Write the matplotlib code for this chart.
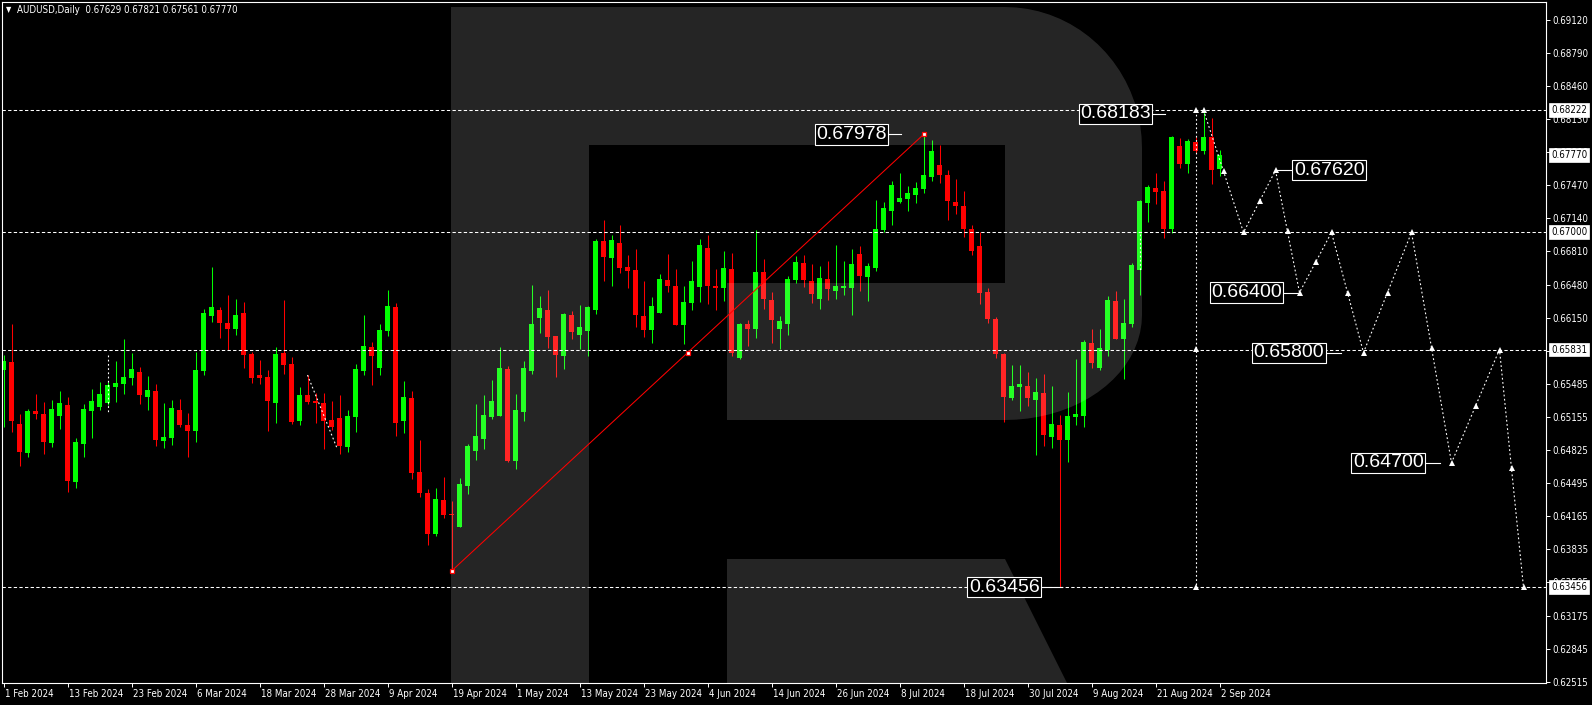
import os
import glob
import numpy as np
import matplotlib
matplotlib.use("Agg")
from matplotlib import pyplot as plt
from matplotlib import font_manager as fm
from matplotlib import transforms as mtransforms
from matplotlib.patches import Polygon

W, H = 1592, 705

# daily candles, 1 Feb 2024 .. 2 Sep 2024
opens = [0.65626, 0.65706, 0.65087, 0.64800, 0.65216, 0.65187, 0.64900, 0.65170, 0.65276, 0.64511,
         0.64890, 0.65220, 0.65260, 0.65300, 0.65456, 0.65486, 0.65546, 0.65606, 0.65356, 0.65416,
         0.64917, 0.64947, 0.65226, 0.65077, 0.65017, 0.65616, 0.66165, 0.66225, 0.66095, 0.66035,
         0.66195, 0.65786, 0.65576, 0.65556, 0.65296, 0.65796, 0.65686, 0.65117, 0.65376, 0.65316,
         0.65296, 0.65127, 0.65147, 0.64857, 0.65157, 0.65616, 0.65856, 0.65646, 0.66015, 0.66255,
         0.65117, 0.65346, 0.64607, 0.64398, 0.63988, 0.64328, 0.64180, 0.64061, 0.64471, 0.64820,
         0.64940, 0.65160, 0.65170, 0.65636, 0.64720, 0.65210, 0.65619, 0.66148, 0.66225, 0.65965,
         0.65769, 0.66175, 0.65978, 0.66018, 0.66228, 0.66914, 0.66747, 0.66894, 0.66654, 0.66624,
         0.66165, 0.66025, 0.66195, 0.66524, 0.66465, 0.66075, 0.66295, 0.66455, 0.66844, 0.66465,
         0.66445, 0.66634, 0.65746, 0.66085, 0.66035, 0.66604, 0.66325, 0.66035, 0.66085, 0.66524,
         0.66694, 0.66514, 0.66335, 0.66534, 0.66415, 0.66448, 0.66445, 0.66784, 0.66554, 0.66644,
         0.67024, 0.67213, 0.67303, 0.67333, 0.67373, 0.67433, 0.67553, 0.67673, 0.67573, 0.67303,
         0.67263, 0.67034, 0.66864, 0.66405, 0.66135, 0.65786, 0.65349, 0.65456, 0.65466, 0.65329,
         0.65396, 0.64960, 0.65076, 0.64930, 0.65156, 0.65169, 0.65895, 0.65645, 0.65825, 0.66314,
         0.65935, 0.66085, 0.66620, 0.67294, 0.67443, 0.67414, 0.67034, 0.67863, 0.67683, 0.67903,
         0.67813, 0.67953, 0.67629]
highs = [0.65776, 0.66085, 0.65187, 0.65236, 0.65386, 0.65306, 0.65326, 0.65416, 0.65356, 0.64947,
         0.65286, 0.65436, 0.65506, 0.65509, 0.65716, 0.65935, 0.65796, 0.65656, 0.65566, 0.65486,
         0.65296, 0.65326, 0.65336, 0.65197, 0.65806, 0.66235, 0.66654, 0.66255, 0.66375, 0.66335,
         0.66305, 0.65806, 0.65726, 0.65626, 0.65856, 0.66325, 0.65756, 0.65456, 0.65576, 0.65393,
         0.65396, 0.65316, 0.65376, 0.65226, 0.65686, 0.66175, 0.65905, 0.66085, 0.66425, 0.66295,
         0.65516, 0.65416, 0.64927, 0.64438, 0.64448, 0.64557, 0.64318, 0.64547, 0.64887, 0.65286,
         0.65376, 0.65526, 0.65855, 0.65666, 0.65386, 0.65715, 0.66474, 0.66364, 0.66424, 0.65965,
         0.66195, 0.66215, 0.66275, 0.66265, 0.66934, 0.67123, 0.66974, 0.67073, 0.66774, 0.66834,
         0.66514, 0.66355, 0.66584, 0.66784, 0.66634, 0.66465, 0.66714, 0.66934, 0.66974, 0.66634,
         0.66814, 0.66794, 0.66095, 0.66125, 0.67024, 0.66734, 0.66405, 0.66165, 0.66564, 0.66764,
         0.66774, 0.66684, 0.66664, 0.66714, 0.66874, 0.66714, 0.66834, 0.66864, 0.66694, 0.67323,
         0.67303, 0.67513, 0.67593, 0.67463, 0.67503, 0.67978, 0.67922, 0.67872, 0.67623, 0.67533,
         0.67413, 0.67074, 0.67004, 0.66445, 0.66155, 0.65796, 0.65675, 0.65675, 0.65605, 0.65545,
         0.65585, 0.65466, 0.65176, 0.65406, 0.65735, 0.65925, 0.66035, 0.66035, 0.66364, 0.66414,
         0.66334, 0.66694, 0.67324, 0.67473, 0.67593, 0.67517, 0.67963, 0.67943, 0.67933, 0.67956,
         0.68222, 0.68142, 0.67821]
lows = [0.65060, 0.65010, 0.64671, 0.64760, 0.65140, 0.64790, 0.64860, 0.65040, 0.64411, 0.64451,
        0.64760, 0.64950, 0.65230, 0.65273, 0.65306, 0.65386, 0.65476, 0.65286, 0.65226, 0.64867,
        0.64847, 0.64877, 0.65057, 0.64757, 0.64907, 0.65576, 0.66105, 0.65945, 0.65826, 0.65975,
        0.65646, 0.65496, 0.65486, 0.65017, 0.65097, 0.65586, 0.65087, 0.65077, 0.65286, 0.65097,
        0.64837, 0.65027, 0.64787, 0.64807, 0.65007, 0.65576, 0.65476, 0.65576, 0.65965, 0.64967,
        0.64997, 0.64538, 0.64358, 0.63879, 0.63968, 0.64148, 0.63619, 0.64061, 0.64391, 0.64730,
        0.64840, 0.65140, 0.65170, 0.64710, 0.64640, 0.65120, 0.65589, 0.65998, 0.65849, 0.65559,
        0.65639, 0.65938, 0.65839, 0.65769, 0.66188, 0.66518, 0.66468, 0.66597, 0.66448, 0.66058,
        0.65955, 0.65895, 0.66195, 0.66405, 0.66075, 0.65885, 0.66225, 0.66305, 0.66285, 0.66225,
        0.66315, 0.65766, 0.65736, 0.65865, 0.65945, 0.66235, 0.65895, 0.65836, 0.65975, 0.66495,
        0.66455, 0.66295, 0.66235, 0.66325, 0.66335, 0.66375, 0.66175, 0.66415, 0.66315, 0.66614,
        0.67004, 0.67074, 0.67293, 0.67213, 0.67293, 0.67393, 0.67513, 0.67493, 0.67124, 0.67183,
        0.66954, 0.66774, 0.66285, 0.66095, 0.65746, 0.65109, 0.65329, 0.65219, 0.65269, 0.64780,
        0.64870, 0.64850, 0.63456, 0.64710, 0.65076, 0.65060, 0.65649, 0.65625, 0.65765, 0.65935,
        0.65536, 0.66058, 0.66374, 0.67104, 0.67284, 0.66948, 0.66991, 0.67643, 0.67593, 0.67790,
        0.67783, 0.67483, 0.67561]
closes = [0.65716, 0.65117, 0.64810, 0.65216, 0.65190, 0.64910, 0.65236, 0.65296, 0.64521, 0.64907,
          0.65236, 0.65316, 0.65386, 0.65476, 0.65496, 0.65556, 0.65636, 0.65376, 0.65426, 0.64927,
          0.64957, 0.65246, 0.65077, 0.65017, 0.65626, 0.66195, 0.66255, 0.66095, 0.66035, 0.66175,
          0.65776, 0.65546, 0.65546, 0.65316, 0.65786, 0.65676, 0.65107, 0.65376, 0.65306, 0.65296,
          0.65117, 0.65057, 0.64867, 0.65167, 0.65636, 0.65865, 0.65766, 0.66025, 0.66265, 0.65097,
          0.65356, 0.64597, 0.64398, 0.63988, 0.64338, 0.64178, 0.64176, 0.64487, 0.64867, 0.64967,
          0.65176, 0.65316, 0.65646, 0.64720, 0.65226, 0.65646, 0.66085, 0.66245, 0.65958, 0.65779,
          0.66185, 0.66008, 0.66055, 0.66255, 0.66914, 0.66757, 0.66924, 0.66647, 0.66617, 0.66178,
          0.66025, 0.66265, 0.66534, 0.66465, 0.66075, 0.66305, 0.66514, 0.66874, 0.66465, 0.66445,
          0.66644, 0.65796, 0.66085, 0.66035, 0.66604, 0.66335, 0.66125, 0.66115, 0.66534, 0.66704,
          0.66524, 0.66385, 0.66544, 0.66435, 0.66465, 0.66468, 0.66684, 0.66564, 0.66664, 0.67034,
          0.67243, 0.67473, 0.67343, 0.67393, 0.67443, 0.67573, 0.67812, 0.67573, 0.67313, 0.67263,
          0.67034, 0.66814, 0.66395, 0.66135, 0.65786, 0.65356, 0.65466, 0.65486, 0.65349, 0.65406,
          0.64980, 0.65086, 0.64930, 0.65166, 0.65186, 0.65905, 0.65699, 0.65845, 0.66324, 0.65935,
          0.66095, 0.66674, 0.67313, 0.67453, 0.67404, 0.67034, 0.67953, 0.67683, 0.67913, 0.67813,
          0.67953, 0.67623, 0.67770]

date_idx = list(range(0, 153, 8))
date_labels = ["1 Feb 2024", "13 Feb 2024", "23 Feb 2024", "6 Mar 2024", "18 Mar 2024",
               "28 Mar 2024", "9 Apr 2024", "19 Apr 2024", "1 May 2024", "13 May 2024",
               "23 May 2024", "4 Jun 2024", "14 Jun 2024", "26 Jun 2024", "8 Jul 2024",
               "18 Jul 2024", "30 Jul 2024", "9 Aug 2024", "21 Aug 2024", "2 Sep 2024"]

price_ticks = [0.69120, 0.68790, 0.68460, 0.68130, 0.67800, 0.67470, 0.67140, 0.66810,
               0.66480, 0.66150, 0.65820, 0.65485, 0.65155, 0.64825, 0.64495, 0.64165,
               0.63835, 0.63505, 0.63175, 0.62845, 0.62515]

# horizontal levels and their boxes on the price scale
levels = [0.68222, 0.67000, 0.65831, 0.63456]
axis_boxes = [0.68222, 0.67770, 0.67000, 0.65831, 0.63456]

# red trend line (low 19 Apr -> high 11 Jul)
trend_bars = [56, 115]
trend_prices = [0.63619, 0.67978]

# forecast zig-zag
fc_bars = [150, 155, 159, 162, 166, 170, 176, 181, 187, 190]
fc_prices = [0.68222, 0.67000, 0.67620, 0.66400, 0.67000, 0.65800, 0.67000, 0.64700, 0.65831, 0.63456]
vert_bar = 149
vert_prices = [0.68222, 0.63456]

# small dotted pieces left on the chart
extra_dotted = [([13, 13], [0.65776, 0.65199]),
                ([38, 41.75], [0.65576, 0.64834]),
                ([142, 142], [0.66983, 0.66625])]

# boxed labels: (text, bar of box edge, price, side, leader end)
labels = [("0.67978", 110.7, 0.67978, "right", 112.2),
          ("0.68183", 143.7, 0.68183, "right", 145.2),
          ("0.63456", 129.8, 0.63456, "right", 132.3),
          ("0.67620", 161.0, 0.67620, "left", 159.2),
          ("0.66400", 160.1, 0.66400, "right", 161.8),
          ("0.65800", 165.4, 0.65800, "right", 167.2),
          ("0.64700", 177.8, 0.64700, "right", 179.6)]


# narrow font for the small terminal text, if one is installed
def find_narrow():
    files = [f.fname for f in fm.fontManager.ttflist]
    files += glob.glob('/usr/share/fonts/**/*.ttf', recursive=True)
    prefs = ['liberationsansnarrow-regular', 'dejavusanscondensed.', 'notosans-condensed.',
             'notosans-semicondensed.', 'robotocondensed-regular', 'opensans-condensed']
    for p in prefs:
        for f in files:
            if os.path.basename(f).lower().startswith(p):
                return f
    return None


narrow = find_narrow()
small_size = 7
if narrow:
    fm.fontManager.addfont(narrow)
    small_font = fm.FontProperties(fname=narrow).get_name()
else:
    small_font = 'Liberation Sans'
plt.rcParams['font.family'] = [small_font, 'DejaVu Sans']
if narrow and 'ondensed' in os.path.basename(narrow):
    plt.rcParams['font.stretch'] = 'condensed'

fig = plt.figure(figsize=(W / 100, H / 100), dpi=100, facecolor='black')
ax = fig.add_axes([2 / W, (H - 683) / H, 1544 / W, 681 / H])
ax.set_facecolor('black')
ax.set_xlim(-0.1875, 192.8125)
ax.set_ylim(0.62501, 0.69301)

o = np.array(opens)
h = np.array(highs)
l = np.array(lows)
c = np.array(closes)
x = np.arange(len(o))
cols = np.where(c >= o, '#00ff00', '#ff0000')
ax.vlines(x, l, h, colors=cols, lw=0.75, zorder=2)
ax.bar(x, np.maximum(np.abs(c - o), 0.0001), width=0.625, bottom=np.minimum(o, c),
       color=cols, lw=0, zorder=2.1)

# watermark "R", drawn in pixel space, semi transparent over the candles
pix = mtransforms.Affine2D().scale(1, -1).translate(0, H)
t = np.linspace(0, np.pi / 2, 20)
upper = [(1005 + 137 * np.sin(a), 148 - 141 * np.cos(a)) for a in t]
lower = [(1005 + 137 * np.cos(a), 315 + 105 * np.sin(a)) for a in t]
r_outline = ([(451, 7), (1005, 7)] + upper + lower +
             [(727, 420), (727, 283), (1005, 283), (1005, 145), (589, 145), (589, 683), (451, 683)])
leg = [(727, 559), (1005, 559), (1067, 683), (727, 683)]
for pts in (r_outline, leg):
    ax.add_patch(Polygon(pts, closed=True, transform=pix, fc='white', alpha=0.15,
                         lw=0, zorder=3))

# horizontal levels
for p in levels:
    ax.axhline(p, color='white', lw=0.75, linestyle=(0, (3.2, 2.2)), zorder=4)

# trend line
ax.plot(trend_bars, trend_prices, color='#ff0000', lw=0.75, zorder=4.5)
ax.plot(trend_bars + [np.mean(trend_bars)], trend_prices + [np.mean(trend_prices)], 's',
        ms=3.5, mfc='white', mec='#ff0000', mew=0.9, zorder=4.6)

# forecast path
dots = (0, (1.6, 2.2))
ax.plot(fc_bars, fc_prices, color='white', lw=0.8, linestyle=dots, zorder=4.5)
mid_b = (np.array(fc_bars[:-1]) + np.array(fc_bars[1:])) / 2
mid_p = (np.array(fc_prices[:-1]) + np.array(fc_prices[1:])) / 2
ax.plot(list(fc_bars) + list(mid_b), list(fc_prices) + list(mid_p), '^', color='white',
        ms=4, mew=0, zorder=4.6)
ax.plot([vert_bar, vert_bar], vert_prices, color='white', lw=0.8, linestyle=dots, zorder=4.5)
ax.plot([vert_bar] * 3, vert_prices + [np.mean(vert_prices)], '^', color='white', ms=4,
        mew=0, zorder=4.6)
for bx, py in extra_dotted:
    ax.plot(bx, py, color='white', lw=0.8, linestyle=dots, zorder=4.5)

# boxed value labels
for txt, bx, py, side, lead in labels:
    ha = 'right' if side == 'right' else 'left'
    ax.plot([bx, lead], [py, py], color='white', lw=0.8, zorder=5)
    ax.text(bx + (-0.3 if ha == 'right' else 0.3), py, txt, ha=ha, va='center', color='white',
            fontsize=14, family=['Liberation Sans', 'DejaVu Sans'], fontstretch='normal',
            zorder=6, bbox=dict(boxstyle='square,pad=0.08', fc='black', ec='white', lw=0.8))

# axes frame
for s in ax.spines.values():
    s.set_color('white')
    s.set_linewidth(0.8)

ax.yaxis.tick_right()
ax.set_yticks(price_ticks)
ax.set_yticklabels([f"{p:.5f}" for p in price_ticks])
ax.tick_params(axis='y', colors='white', length=3, width=0.7, pad=1.5, labelsize=small_size)
ax.set_xticks(date_idx)
ax.set_xticklabels([])
ax.tick_params(axis='x', colors='white', length=3, width=0.7)

bt = mtransforms.blended_transform_factory(ax.transData, ax.transAxes)
for i, s in zip(date_idx, date_labels):
    ax.text(i + 0.15, -11 / 681, s, transform=bt, ha='left', va='center', color='white',
            fontsize=small_size, clip_on=False)

rt = mtransforms.blended_transform_factory(ax.transAxes, ax.transData)
for p in axis_boxes:
    ax.text(1 + 5 / 1544, p, f"{p:.5f}", transform=rt, ha='left', va='center', color='black',
            fontsize=small_size, clip_on=False, zorder=7,
            bbox=dict(boxstyle='square,pad=0.2', fc='white', ec='white', lw=0.5))

# header
fig.text(6 / W, 1 - 10 / H, "\u25bc", color='white', fontsize=5.5, va='center', ha='left',
         family='DejaVu Sans')
fig.text(17 / W, 1 - 10 / H,
         f"AUDUSD,Daily  {opens[-1]:.5f} {highs[-1]:.5f} {lows[-1]:.5f} {closes[-1]:.5f}",
         color='white', fontsize=small_size, va='center', ha='left')

fig.savefig('out.png', dpi=100, facecolor='black')
